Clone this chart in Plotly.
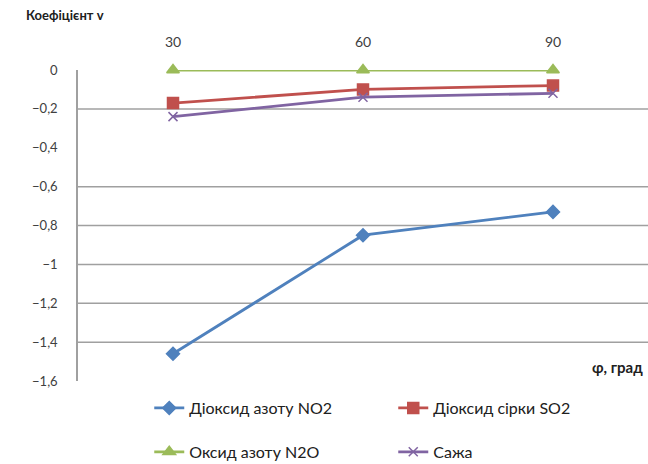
import plotly.graph_objects as go

# Angle categories and coefficient values per pollutant
angles = ["30", "60", "90"]
no2 = [-1.46, -0.85, -0.73]
so2 = [-0.17, -0.10, -0.08]
n2o = [0.0, 0.0, 0.0]
soot = [-0.24, -0.14, -0.12]

y_ticks = [0, -0.2, -0.4, -0.6, -0.8, -1, -1.2, -1.4, -1.6]
grid_values = [-0.2, -0.6, -0.8, -1, -1.2, -1.4]

FONT = "Lato, 'Open Sans', sans-serif"
TXT = "#404040"

fig = go.Figure()

series = [
    ("Діоксид азоту NO2", no2, "#4F81BD", "diamond", 10, "legend"),
    ("Діоксид сірки SO2", so2, "#C0504D", "square", 11, "legend"),
    ("Оксид азоту N2O", n2o, "#9BBB59", "triangle-up", 11, "legend2"),
    ("Сажа", soot, "#8064A2", "x-thin-open", 9, "legend2"),
]
for name, vals, color, sym, size, leg in series:
    fig.add_trace(go.Scatter(
        x=list(range(len(angles))), y=vals, name=name, mode="lines+markers",
        line=dict(color=color, width=2.8),
        marker=dict(symbol=sym, size=size, color=color,
                    line=dict(color=color, width=1.5)),
        cliponaxis=False,
        legend=leg,
    ))

for v in grid_values:
    fig.add_shape(type="line", xref="paper", yref="y", x0=0, x1=1, y0=v, y1=v,
                  line=dict(color="#A0A0A0", width=1.5), layer="below")

legend_style = dict(orientation="h", xanchor="left", yanchor="middle",
                    entrywidth=199, entrywidthmode="pixels",
                    font=dict(size=16, color="#202020"), bgcolor="rgba(0,0,0,0)")

fig.update_layout(
    width=648, height=464,
    margin=dict(l=78, r=0, t=70, b=83, autoexpand=False),
    paper_bgcolor="white", plot_bgcolor="white",
    separators=", ",
    font=dict(family=FONT, size=13, color=TXT),
    title=dict(text="<b>Коефіцієнт v</b>", xref="container", yref="container",
               x=26 / 648, y=1 - 15 / 464, xanchor="left", yanchor="middle",
               font=dict(size=13, color="#202020")),
    xaxis=dict(
        side="top", range=[-0.5, 2.5],
        tickmode="array", tickvals=list(range(len(angles))), ticktext=angles,
        showgrid=False, zeroline=False, showline=False, ticks="",
        ticklabelstandoff=19, tickfont=dict(size=14, color=TXT),
    ),
    yaxis=dict(
        range=[-1.6, 0], tickmode="array", tickvals=y_ticks,
        showgrid=False, zeroline=False, showline=True,
        linecolor="#A0A0A0", linewidth=1.5, ticks="",
        ticklabelstandoff=16, tickfont=dict(size=13, color=TXT),
    ),
    legend=dict(x=0.125, y=-0.087, **legend_style),
    legend2=dict(x=0.125, y=-0.228, **legend_style),
    annotations=[
        dict(text="<b>φ, град</b>", xref="paper", yref="paper",
             x=0.995, y=0.045, xanchor="right", yanchor="middle",
             showarrow=False, font=dict(size=15, color="#202020")),
    ],
)

fig.write_html("out.html")
